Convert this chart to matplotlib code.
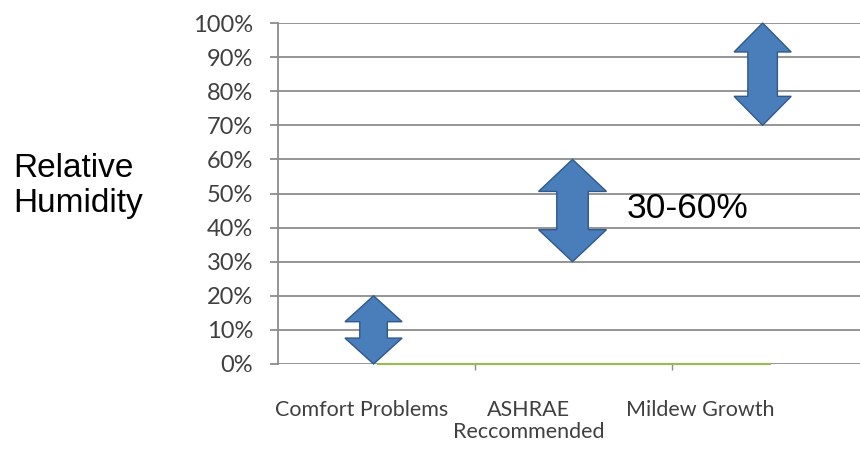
import matplotlib
matplotlib.use("Agg")
import matplotlib.pyplot as plt
from matplotlib.patches import Polygon
from matplotlib.transforms import ScaledTranslation
from matplotlib.ticker import FixedLocator, PercentFormatter

# ---- data ----
categories = ["Comfort Problems", "ASHRAE\nReccommended", "Mildew Growth"]
range_low = [0, 30, 70]           # lower end of each humidity band (%)
range_high = [20, 60, 100]        # upper end of each humidity band (%)
baseline_values = [0, 0, 0]       # the flat line series along 0%
band_label = "30-60%"
y_ticks = [0, 10, 20, 30, 40, 50, 60, 70, 80, 90, 100]

# ---- styles ----
head_width = [0.29, 0.345, 0.29]     # in category units
shaft_width = [0.14, 0.16, 0.15]
head_len = [7.6, 9.4, 8.5]           # in % units
x_shift = [-0.015, -0.005, -0.04]
label_shift_px = [-15, -45, -70]
fill_c = "#4A7EBB"
edge_c = "#30598A"
grid_c = "#8C8C8C"
tick_c = "#404040"

plt.rcParams["font.family"] = ["Lato", "DejaVu Sans"]

fig = plt.figure(figsize=(8.6, 4.49), dpi=100)
ax = fig.add_axes([278 / 860, 85 / 449, 591 / 860, 341 / 449])

x = list(range(len(categories)))
ax.set_xlim(-0.5, len(categories) - 0.5)
ax.set_ylim(0, 100)

# gridlines
ax.yaxis.set_major_locator(FixedLocator(y_ticks))
ax.yaxis.set_major_formatter(PercentFormatter(decimals=0))
ax.grid(axis="y", color=grid_c, lw=1.3, zorder=0)
ax.set_axisbelow(True)

# baseline series
ax.plot(x, baseline_values, color="#9BBB59", lw=1.6, zorder=2,
        solid_capstyle="butt", clip_on=False)

# double arrows
def double_arrow(xc, lo, hi, hw, sw, hl):
    pts = [
        (xc, hi),
        (xc + hw / 2, hi - hl),
        (xc + sw / 2, hi - hl),
        (xc + sw / 2, lo + hl),
        (xc + hw / 2, lo + hl),
        (xc, lo),
        (xc - hw / 2, lo + hl),
        (xc - sw / 2, lo + hl),
        (xc - sw / 2, hi - hl),
        (xc - hw / 2, hi - hl),
    ]
    return Polygon(pts, closed=True, facecolor=fill_c, edgecolor=edge_c,
                   lw=1.0, joinstyle="miter", zorder=3, clip_on=False)

for i in x:
    ax.add_patch(double_arrow(i + x_shift[i], range_low[i], range_high[i],
                              head_width[i], shaft_width[i], head_len[i]))

ax.text(1.27, (range_low[1] + range_high[1]) / 2 + 0.5, band_label,
        family="Liberation Sans", fontsize=25.5, color="black",
        ha="left", va="center", zorder=4)

# spines
for s in ["top", "right", "bottom"]:
    ax.spines[s].set_visible(False)
ax.spines["left"].set_color(grid_c)
ax.spines["left"].set_linewidth(1.3)

ax.tick_params(axis="y", length=5.8, width=1.3, color=grid_c, pad=12,
               labelsize=17, labelcolor=tick_c)

ax.set_xticks(x)
ax.set_xticklabels(categories, linespacing=1.1)
ax.set_xticks([i + 0.5 for i in x], minor=True)
ax.tick_params(axis="x", which="major", length=0, pad=26,
               labelsize=15.5, labelcolor=tick_c)
ax.tick_params(axis="x", which="minor", length=4, width=1.0, color=grid_c)
for lab, dx in zip(ax.get_xticklabels(), label_shift_px):
    lab.set_transform(lab.get_transform() + ScaledTranslation(dx / 100, 0, fig.dpi_scale_trans))

fig.text(13 / 860, 1 - 186 / 449, "Relative\nHumidity", family="Liberation Sans",
         fontsize=24, color="black", ha="left", va="center", linespacing=1.2)

fig.savefig("out.png", dpi=100)
